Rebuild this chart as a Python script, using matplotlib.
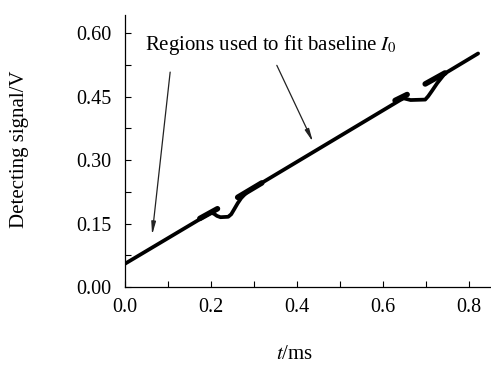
import matplotlib
matplotlib.use("Agg")
import matplotlib.pyplot as plt
from matplotlib.ticker import MultipleLocator, FormatStrFormatter

plt.rcParams['font.family'] = ['Liberation Serif', 'DejaVu Serif']
plt.rcParams['mathtext.fontset'] = 'stix'

# Detecting signal (V) vs time (ms)
t_signal = [0.0, 0.200, 0.207, 0.214, 0.222, 0.240, 0.247, 0.254, 0.262, 0.270,
            0.285, 0.640, 0.648, 0.656, 0.664, 0.698, 0.705, 0.714, 0.726,
            0.744, 0.821]
v_signal = [0.055, 0.176, 0.173, 0.168, 0.165, 0.166, 0.172, 0.184, 0.198, 0.210,
            0.226, 0.442, 0.446, 0.444, 0.442, 0.443, 0.451, 0.464, 0.482,
            0.505, 0.552]

# Regions used to fit the baseline I0 (thick segments)
fit_t0 = [0.174, 0.262, 0.628, 0.698]
fit_t1 = [0.215, 0.318, 0.656, 0.744]
fit_v0 = [0.162, 0.212, 0.441, 0.480]
fit_v1 = [0.185, 0.246, 0.455, 0.506]

# Annotation arrows (tail -> head)
arrow_tail_t = [0.105, 0.353]
arrow_tail_v = [0.508, 0.524]
arrow_head_t = [0.063, 0.437]
arrow_head_v = [0.123, 0.343]

fig = plt.figure(figsize=(4.91, 3.69), dpi=100)
ax = fig.add_axes([125/491, (369-287)/369, (491-125)/491, (287-15)/369])

ax.plot(t_signal, v_signal, color='black', lw=2.7, solid_capstyle='round',
        solid_joinstyle='round')
for a, b, c, d in zip(fit_t0, fit_t1, fit_v0, fit_v1):
    ax.plot([a, b], [c, d], color='black', lw=4.0, solid_capstyle='round')

ax.text(0.0465, 0.572, r'Regions used to fit baseline $I_0$', fontsize=15,
        va='center', ha='left')
for xt, yt, xh, yh in zip(arrow_tail_t, arrow_tail_v, arrow_head_t, arrow_head_v):
    ax.annotate('', xy=(xh, yh), xytext=(xt, yt),
                arrowprops=dict(arrowstyle='-|>,head_width=0.13,head_length=0.75',
                                lw=0.9, color='#222222', shrinkA=0, shrinkB=0))

ax.set_xlim(0, 0.851)
ax.set_ylim(0, 0.643)
ax.xaxis.set_major_locator(MultipleLocator(0.2))
ax.xaxis.set_minor_locator(MultipleLocator(0.1))
ax.yaxis.set_major_locator(MultipleLocator(0.15))
ax.yaxis.set_minor_locator(MultipleLocator(0.075))
ax.xaxis.set_major_formatter(FormatStrFormatter('%.1f'))
ax.yaxis.set_major_formatter(FormatStrFormatter('%.2f'))
ax.tick_params(which='both', direction='in', length=4, width=0.8,
               labelsize=14.5, colors='black')
ax.tick_params(axis='x', pad=8)
ax.tick_params(axis='y', pad=10)
for s in ['top', 'right']:
    ax.spines[s].set_visible(False)
for s in ['left', 'bottom']:
    ax.spines[s].set_linewidth(0.9)

ax.set_xlabel(r'$t$/ms', fontsize=15)
ax.set_ylabel('Detecting signal/V', fontsize=15)
ax.xaxis.set_label_coords(0.464, -0.215)
ax.yaxis.set_label_coords(-0.262, 0.505)

fig.savefig('out.png', dpi=100)
